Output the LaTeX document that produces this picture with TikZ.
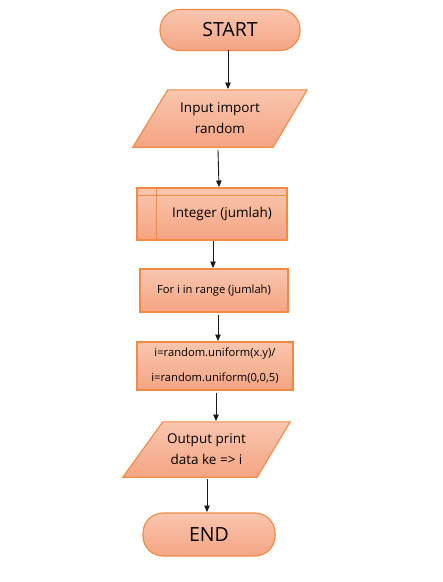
\documentclass[tikz,border=0pt]{standalone}
\usepackage{fontspec}
\setmainfont{Open Sans}
\usetikzlibrary{backgrounds,arrows.meta}
\definecolor{fillTop}{HTML}{F9C6AF}
\definecolor{fillBot}{HTML}{F4A483}
\definecolor{edge}{HTML}{F08A45}
\definecolor{ink}{HTML}{1A1A1A}
\tikzset{
  shadefill/.style={top color=fillTop, bottom color=fillBot, draw=edge, line width=1.1pt},
  terminal/.style={shadefill, rounded corners=20pt, minimum width=#1, minimum height=41pt, inner sep=0pt, font=\fontsize{19.5}{21}\selectfont},
  procbox/.style={shadefill, minimum width=#1, inner sep=0pt},
  ioholder/.style={draw=none, inner sep=0pt, align=center, font=\fontsize{13.5}{21}\selectfont},
  arr/.style={draw=ink, line width=0.9pt, -{Triangle[length=6.5pt,width=5.5pt]}},
}
\begin{document}
\begin{tikzpicture}[x=1pt,y=-1pt]
\begin{scope}[on background layer]
\fill[white] (0,0) rectangle (443,582);
\end{scope}
\useasboundingbox (0,0) rectangle (443,582);

% START
\node[terminal=140pt] (start) at (230,30) {START};

% Input parallelogram
\node[ioholder, minimum width=174pt, minimum height=57pt] (in) at (220,118.5) {Input import\\random};
\begin{scope}[on background layer]
\path[shadefill] (in.south west) -- ([xshift=-34pt]in.south east) -- (in.north east) -- ([xshift=35pt]in.north west) -- cycle;
\end{scope}

% Integer predefined process
\node[procbox=150pt, minimum height=52pt, font=\fontsize{13.5}{15}\selectfont] (int) at (212,214) {\hspace*{20pt}Integer (jumlah)};
\draw[edge, line width=1.1pt] ([yshift=-8pt]int.north west) -- ([yshift=-8pt]int.north east);
\draw[edge, line width=1.1pt] ([xshift=20pt]int.north west) -- ([xshift=20pt]int.south west);

% For box
\node[procbox=148pt, minimum height=43pt, font=\fontsize{11.2}{12}\selectfont] (for) at (214,290.5) {For i in range (jumlah)};

% random box
\node[procbox=156pt, minimum height=48pt, align=center, font=\fontsize{11.2}{25}\selectfont] (rnd) at (215,366) {i=random.uniform(x.y)/\\i=random.uniform(0,0,5)};

% Output parallelogram
\node[ioholder, minimum width=167pt, minimum height=55pt] (out) at (206.5,449.5) {Output print\\data ke => i};
\begin{scope}[on background layer]
\path[shadefill] (out.south west) -- ([xshift=-33pt]out.south east) -- (out.north east) -- ([xshift=40pt]out.north west) -- cycle;
\end{scope}

% END
\node[terminal=132pt, minimum height=43pt] (end) at (209,534.5) {END};

% connectors
\coordinate (a1s) at (228,50);  \coordinate (a1e) at (228,89);
\coordinate (a2s) at (218,150); \coordinate (a2e) at (219,187);
\coordinate (a3s) at (213,241); \coordinate (a3e) at (213,268);
\coordinate (a4s) at (218,315); \coordinate (a4e) at (218,341);
\coordinate (a5s) at (216,393); \coordinate (a5e) at (216,421);
\coordinate (a6s) at (207,479); \coordinate (a6e) at (207,512);
\draw[arr] (a1s) -- (a1e);
\draw[arr] (a2s) -- (a2e);
\draw[arr] (a3s) -- (a3e);
\draw[arr] (a4s) -- (a4e);
\draw[arr] (a5s) -- (a5e);
\draw[arr] (a6s) -- (a6e);
\end{tikzpicture}
\end{document}
